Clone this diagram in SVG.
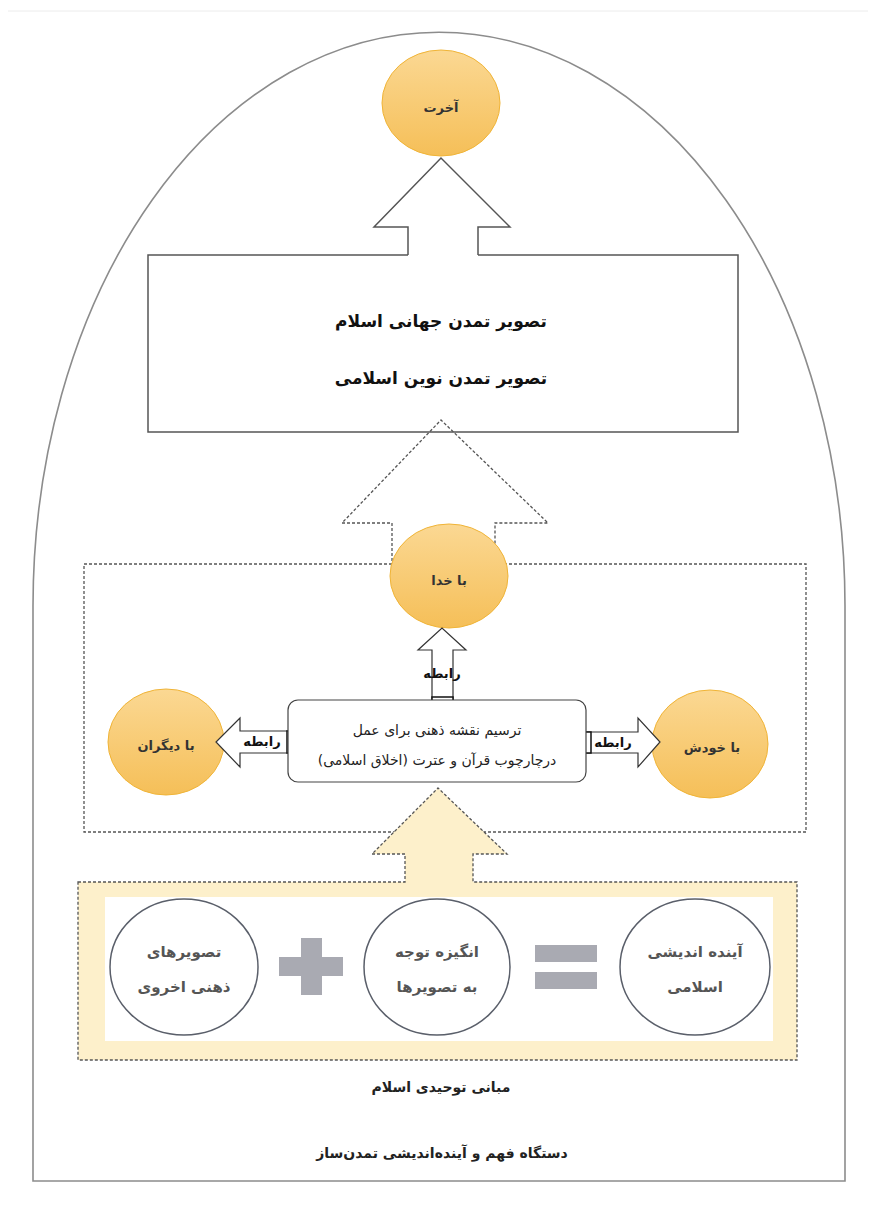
<svg xmlns="http://www.w3.org/2000/svg" width="876" height="1205" viewBox="0 0 876 1205">
<defs>
<linearGradient id="og" x1="0" y1="0" x2="0" y2="1">
<stop offset="0" stop-color="#FBD893"/>
<stop offset="1" stop-color="#F5BF58"/>
</linearGradient>
<style>
text{font-family:"DejaVu Sans",sans-serif;text-anchor:middle;direction:rtl}
.orb{fill:url(#og);stroke:#F0B437;stroke-width:1}
.ot{font-size:13px;font-weight:bold;fill:#333}
.big{font-size:17px;font-weight:bold;fill:#111}
.mid{font-size:14px;fill:#222}
.rab{font-size:13px;font-weight:bold;fill:#111}
.gc{fill:#fff;stroke:#5a5f6a;stroke-width:1.5}
.gt{font-size:15px;font-weight:bold;fill:#555}
.sym{fill:#A9AAB2}
.dash{stroke:#555;stroke-width:1.3;stroke-dasharray:3 2}
.sa{fill:#fff;stroke:#333;stroke-width:1.2}
.band{fill:#fff;stroke:#111;stroke-width:1.5}
.lbl{font-size:14px;font-weight:bold;fill:#222}
</style>
</defs>
<rect width="876" height="1205" fill="#fff"/>
<line x1="8" y1="11" x2="868" y2="11" stroke="#ececec" stroke-width="1"/>
<path id="arch" d="M33,1181 L33,606 A406,574 0 0 1 845,606 L845,1181 Z" fill="none" stroke="#8c8c8c" stroke-width="1.6"/>

<g id="connectors">
<path id="arrow-top" d="M408,255 L408,227 L374,227 L441,158 L510,227 L478,227 L478,255" fill="#fff" stroke="#555" stroke-width="1.5"/>
<path id="arrow-mid" class="dash" d="M392,566 L392,523 L342,523 L441,420 L548,523 L495,523 L495,566" fill="#fff"/>
</g>

<g id="box-main">
<path d="M408,255 L148,255 L148,432 L738,432 L738,255 L478,255" fill="none" stroke="#555" stroke-width="1.5"/>
<text class="big" x="441" y="327">تصویر تمدن جهانی اسلام</text>
<text class="big" x="441" y="384">تصویر تمدن نوین اسلامی</text>
</g>

<g id="node-akherat">
<ellipse class="orb" cx="441" cy="103" rx="59" ry="53"/>
<text class="ot" x="441" y="112">آخرت</text>
</g>

<g id="box-relations">
<rect class="dash" x="84" y="564" width="722" height="268" fill="none"/>
</g>

<g id="node-bakhoda">
<ellipse class="orb" cx="449" cy="576" rx="59" ry="52"/>
<text class="ot" x="449" y="585">با خدا</text>
</g>

<g id="node-badigaran">
<ellipse class="orb" cx="166" cy="742" rx="58" ry="53"/>
<text class="ot" x="166" y="750">با دیگران</text>
</g>

<g id="node-bakhodash">
<ellipse class="orb" cx="710" cy="744" rx="58" ry="54"/>
<text class="ot" x="712" y="752">با خودش</text>
</g>

<g id="connectors-rabeta">
<g id="rab-up">
<path class="sa" d="M432,703 L432,650 L418,650 L442,628 L466,650 L453,650 L453,703 Z"/>
<rect class="band" x="432" y="697" width="21" height="6"/>
<text class="rab" x="442" y="678">رابطه</text>
</g>
<g id="rab-left">
<path class="sa" d="M293,731 L240,731 L240,718 L216,742 L240,767 L240,753 L293,753 Z"/>
<rect class="band" x="287" y="731" width="6" height="22"/>
<text class="rab" x="262" y="746">رابطه</text>
</g>
<g id="rab-right">
<path class="sa" d="M585,732 L638,732 L638,718 L660,742 L638,767 L638,753 L585,753 Z"/>
<rect class="band" x="585" y="732" width="6" height="21"/>
<text class="rab" x="613" y="747">رابطه</text>
</g>
</g>

<g id="node-center">
<rect x="288" y="700" width="298" height="82" rx="10" fill="#fff" stroke="#444" stroke-width="1.2"/>
<text class="mid" x="437" y="735">ترسیم نقشه ذهنی برای عمل</text>
<text class="mid" x="437" y="765">درچارچوب قرآن و عترت (اخلاق اسلامی)</text>
</g>

<g id="box-bottom">
<path class="dash" d="M78,882 L405,882 L405,854 L372,854 L438,788 L507,854 L473,854 L473,882 L797,882 L797,1060 L78,1060 Z" fill="#FDF0CB"/>
<rect x="105" y="897" width="668" height="144" fill="#fff"/>
</g>

<g id="node-tasvirha">
<ellipse class="gc" cx="184" cy="967" rx="74" ry="68"/>
<text class="gt" x="184" y="957">تصویرهای</text>
<text class="gt" x="184" y="992">ذهنی اخروی</text>
</g>
<g id="plus">
<rect class="sym" x="301" y="938" width="21" height="57"/>
<rect class="sym" x="279" y="957" width="64" height="19"/>
</g>
<g id="node-angize">
<ellipse class="gc" cx="437" cy="967" rx="73" ry="68"/>
<text class="gt" x="437" y="957">انگیزه توجه</text>
<text class="gt" x="437" y="992">به تصویرها</text>
</g>
<g id="equals">
<rect class="sym" x="535" y="945" width="62" height="17"/>
<rect class="sym" x="535" y="972" width="62" height="17"/>
</g>
<g id="node-ayande">
<ellipse class="gc" cx="695" cy="967" rx="75" ry="68"/>
<text class="gt" x="695" y="957">آینده اندیشی</text>
<text class="gt" x="695" y="992">اسلامی</text>
</g>

<g id="labels">
<text class="lbl" x="441" y="1092">مبانی توحیدی اسلام</text>
<text class="lbl" x="442" y="1158">دستگاه فهم و آینده‌اندیشی تمدن‌ساز</text>
</g>
</svg>
